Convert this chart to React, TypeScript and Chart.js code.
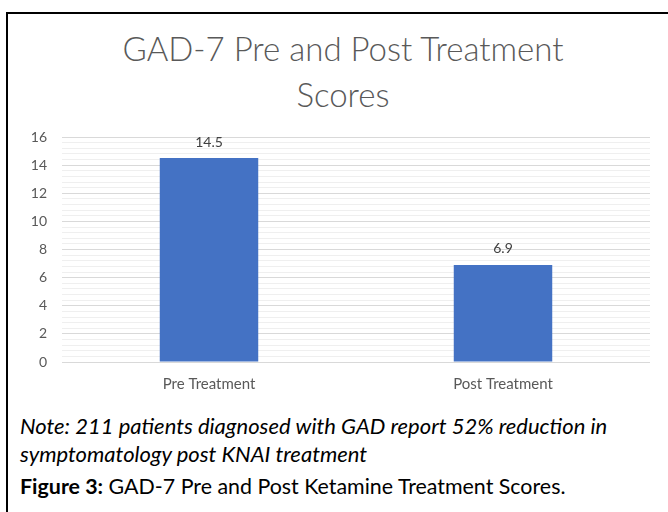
import React, { useEffect, useRef } from "react";
import { Chart, registerables } from "chart.js";

Chart.register(...registerables);

const categories = ["Pre Treatment", "Post Treatment"];
const scores = [14.5, 6.9];
const scoreLabels = ["14.5", "6.9"];
const titleLines = ["GAD-7 Pre and Post Treatment", "Scores"];
const yMax = 16;
const minorStep = 0.4;
const majorStep = 2;

const FONT = "Lato, 'Open Sans', 'DejaVu Sans', sans-serif";

const isMajor = (v: number) => Math.abs(v / majorStep - Math.round(v / majorStep)) < 1e-6;

const dataLabelPlugin = {
  id: "dataLabels",
  afterDatasetsDraw(chart: any) {
    const ctx = chart.ctx;
    const meta = chart.getDatasetMeta(0);
    ctx.save();
    ctx.fillStyle = "#404040";
    ctx.font = `14px ${FONT}`;
    ctx.textAlign = "center";
    ctx.textBaseline = "bottom";
    meta.data.forEach((bar: any, i: number) => {
      ctx.fillText(scoreLabels[i], bar.x, bar.y - 9);
    });
    ctx.restore();
  },
};

export default function App() {
  const canvasRef = useRef<HTMLCanvasElement | null>(null);

  useEffect(() => {
    document.body.style.margin = "0";
    const chart = new Chart(canvasRef.current as HTMLCanvasElement, {
      type: "bar",
      data: {
        labels: categories,
        datasets: [
          {
            data: scores,
            backgroundColor: "#4472C4",
            borderWidth: 0,
            categoryPercentage: 1,
            barPercentage: 0.335,
          },
        ],
      },
      plugins: [dataLabelPlugin],
      options: {
        animation: false,
        responsive: false,
        maintainAspectRatio: false,
        layout: { padding: { top: 27, right: 18, bottom: 0, left: 0 } },
        plugins: {
          legend: { display: false },
          tooltip: { enabled: false },
          title: { display: false },
        },
        scales: {
          x: {
            grid: { display: false, drawTicks: false },
            border: { display: false },
            ticks: {
              color: "#595959",
              font: { family: FONT, size: 15 },
              padding: 13,
            },
            afterFit(scale: any) {
              scale.height = 48;
            },
          },
          y: {
            min: 0,
            max: yMax,
            border: { display: false },
            grid: {
              drawTicks: false,
              color: (c: any) => (isMajor(c.tick.value) ? "#d9d9d9" : "#efefef"),
              lineWidth: 1,
            },
            ticks: {
              stepSize: minorStep,
              autoSkip: false,
              color: "#595959",
              font: { family: FONT, size: 14 },
              padding: 15,
              callback: (v: any) => (isMajor(Number(v)) ? String(Math.round(Number(v))) : ""),
            },
            afterFit(scale: any) {
              scale.width = 54;
            },
          },
        },
      },
    });
    return () => chart.destroy();
  }, []);

  return (
    <div style={{ position: "absolute", left: 0, top: 0, width: 668, height: 512, background: "#fff", overflow: "hidden" }}>
      <div style={{ position: "absolute", left: 6, top: 12, width: 662, height: 2, background: "#000" }} />
      <div style={{ position: "absolute", left: 6, top: 12, width: 2, height: 500, background: "#000" }} />
      <div
        style={{
          position: "absolute",
          left: 8,
          top: 25,
          width: 670,
          textAlign: "center",
          fontFamily: FONT,
          fontWeight: 300,
          fontSize: 33,
          lineHeight: "46px",
          color: "#595959",
        }}
      >
        {titleLines.map((t) => (
          <div key={t}>{t}</div>
        ))}
      </div>
      <canvas ref={canvasRef} width={660} height={300} style={{ position: "absolute", left: 8, top: 110, width: 660, height: 300 }} />
      <div
        style={{
          position: "absolute",
          left: 20,
          top: 412,
          fontFamily: FONT,
          fontStyle: "italic",
          fontSize: 22,
          lineHeight: "28px",
          color: "#000",
          whiteSpace: "nowrap",
        }}
      >
        <div>Note: 211 patients diagnosed with GAD report 52% reduction in</div>
        <div>symptomatology post KNAI treatment</div>
      </div>
      <div
        style={{
          position: "absolute",
          left: 20,
          top: 472,
          fontFamily: FONT,
          fontSize: 21.4,
          lineHeight: "28px",
          color: "#000",
          whiteSpace: "nowrap",
        }}
      >
        <b>Figure 3:</b> GAD-7 Pre and Post Ketamine Treatment Scores.
      </div>
    </div>
  );
}
